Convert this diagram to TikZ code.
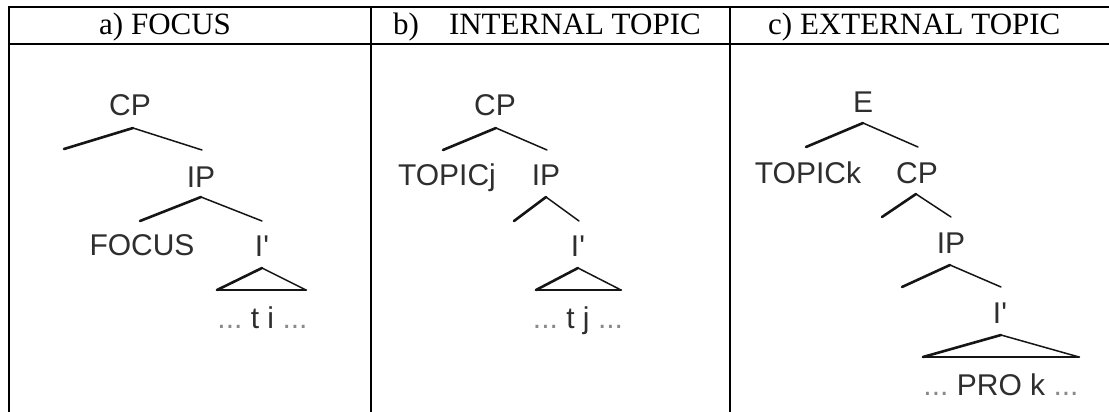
\documentclass[tikz,border=0pt]{standalone}
\usepackage{fontspec}
\setmainfont{Liberation Serif}
\newfontfamily\treefont{Liberation Sans}
\definecolor{lbl}{HTML}{2E2E2E}
\definecolor{dotc}{HTML}{8A8A8A}
\definecolor{edge}{HTML}{151515}
\tikzset{
  hdr/.style={font=\fontsize{31}{36}\selectfont, anchor=base west, inner sep=0pt},
  lab/.style={font=\treefont\fontsize{30}{36}\selectfont, text=lbl, anchor=base, inner sep=0pt},
  thk/.style={draw=edge, line width=2.6pt, line cap=round},
  thn/.style={draw=edge, line width=1.5pt, line cap=round},
  rule/.style={draw=black, line width=2pt}
}
\newcommand{\dd}{{\color{dotc}...}}
\begin{document}
\begin{tikzpicture}[x=1pt, y=-1pt]
\useasboundingbox (0,0) rectangle (1109,412);
% table
\coordinate (t1) at (8,7);   \coordinate (t2) at (1109,7);
\coordinate (h1) at (8,44);  \coordinate (h2) at (1109,44);
\coordinate (v1a) at (9,6);   \coordinate (v1b) at (9,412);
\coordinate (v2a) at (371,6); \coordinate (v2b) at (371,412);
\coordinate (v3a) at (730,6); \coordinate (v3b) at (730,412);
\draw[rule] (t1) -- (t2);
\draw[rule] (h1) -- (h2);
\draw[rule] (v1a) -- (v1b);
\draw[rule] (v2a) -- (v2b);
\draw[rule] (v3a) -- (v3b);
% headers
\node[hdr] (ha) at (99,35) {a) FOCUS};
\node[hdr] (hb) at (393,35) {b)\hspace{30pt}INTERNAL TOPIC};
\node[hdr] (hc) at (768,35) {c) EXTERNAL TOPIC};

% ---- tree a
\node[lab] (aCP) at (130,115) {CP};
\coordinate (aCPt) at (133,128); \coordinate (aCPl) at (64,149); \coordinate (aCPr) at (202,150);
\node[lab] (aIP) at (201,187) {IP};
\coordinate (aIPt) at (201,197); \coordinate (aIPl) at (140,221); \coordinate (aIPr) at (262,221);
\node[lab] (aF) at (142,255) {FOCUS};
\node[lab] (aI) at (262,256) {I\textquotesingle};
\coordinate (aTt) at (262,268); \coordinate (aTl) at (217,290); \coordinate (aTr) at (306,290);
\node[lab] (aTx) at (262.5,328) {\dd\ t i \dd};
\draw[thk] (aCPt) -- (aCPl); \draw[thn] (aCPt) -- (aCPr);
\draw[thk] (aIPt) -- (aIPl); \draw[thn] (aIPt) -- (aIPr);
\draw[thk] (aTt) -- (aTl); \draw[thn] (aTt) -- (aTr); \draw[thk] (aTl) -- (aTr);

% ---- tree b
\node[lab] (bCP) at (495,115) {CP};
\coordinate (bCPt) at (496,128); \coordinate (bCPl) at (443,150); \coordinate (bCPr) at (547,150);
\node[lab] (bT) at (447,185) {TOPICj};
\node[lab] (bIP) at (546,185) {IP};
\coordinate (bIPt) at (546,197); \coordinate (bIPl) at (514,221); \coordinate (bIPr) at (579,221);
\node[lab] (bI) at (578,256) {I\textquotesingle};
\coordinate (bTt) at (578,268); \coordinate (bTl) at (536,290); \coordinate (bTr) at (621,290);
\node[lab] (bTx) at (578,328) {\dd\ t j \dd};
\draw[thk] (bCPt) -- (bCPl); \draw[thn] (bCPt) -- (bCPr);
\draw[thk] (bIPt) -- (bIPl); \draw[thn] (bIPt) -- (bIPr);
\draw[thk] (bTt) -- (bTl); \draw[thn] (bTt) -- (bTr); \draw[thk] (bTl) -- (bTr);

% ---- tree c
\node[lab] (cE) at (863,113) {E};
\coordinate (cEt) at (863,123); \coordinate (cEl) at (806,147); \coordinate (cEr) at (918,147);
\node[lab] (cT) at (808,183) {TOPICk};
\node[lab] (cCP) at (917,183) {CP};
\coordinate (cCPt) at (916,194); \coordinate (cCPl) at (882,217); \coordinate (cCPr) at (951,217);
\node[lab] (cIP) at (951,253) {IP};
\coordinate (cIPt) at (950,265); \coordinate (cIPl) at (902,287); \coordinate (cIPr) at (1001,287);
\node[lab] (cI) at (1000,323) {I\textquotesingle};
\coordinate (cTt) at (1001,335); \coordinate (cTl) at (923,357); \coordinate (cTr) at (1079,357);
\node[lab] (cTx) at (1001,395) {\dd\ PRO k \dd};
\draw[thk] (cEt) -- (cEl); \draw[thn] (cEt) -- (cEr);
\draw[thk] (cCPt) -- (cCPl); \draw[thn] (cCPt) -- (cCPr);
\draw[thk] (cIPt) -- (cIPl); \draw[thn] (cIPt) -- (cIPr);
\draw[thk] (cTt) -- (cTl); \draw[thn] (cTt) -- (cTr); \draw[thk] (cTl) -- (cTr);
\end{tikzpicture}
\end{document}
